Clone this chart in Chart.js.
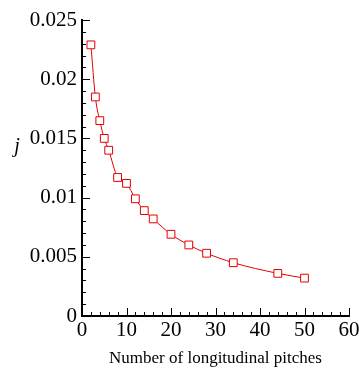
<!DOCTYPE html>
<html>
<head>
<meta charset="utf-8">
<script src="https://cdn.jsdelivr.net/npm/chart.js@4/dist/chart.umd.min.js"></script>
<style>
html,body{margin:0;padding:0;background:#fff;}
#wrap{width:359px;height:370px;position:relative;}
</style>
</head>
<body>
<div id="wrap"><canvas id="c" width="359" height="370"></canvas></div>
<script>
const pitches = [2, 3, 4, 5, 6, 8, 10, 12, 14, 16, 20, 24, 28, 34, 44, 50];
const jValues = [0.0229, 0.0185, 0.0165, 0.0150, 0.0140, 0.0117, 0.0112, 0.0099, 0.0089, 0.0082, 0.0069, 0.0060, 0.0053, 0.0045, 0.0036, 0.0032];
const xTickLabels = ['0', '10', '20', '30', '40', '50', '60'];
const yTickLabels = ['0', '0.005', '0.01', '0.015', '0.02', '0.025'];
const xTitle = 'Number of longitudinal pitches';
const yTitle = 'j';

const RED = 'rgb(228,0,0)';
const FONT = '"Liberation Serif", "Times New Roman", serif';

const points = pitches.map((x, i) => ({x: x, y: jValues[i]}));

function isMajor(v, step) {
  const r = v / step;
  return Math.abs(r - Math.round(r)) < 1e-6;
}

const tickPlugin = {
  id: 'innerTicks',
  afterDraw(chart) {
    const ctx = chart.ctx;
    const xs = chart.scales.x, ys = chart.scales.y;
    const area = chart.chartArea;
    ctx.save();
    ctx.strokeStyle = '#000';
    ctx.lineWidth = 1;
    xs.ticks.forEach(t => {
      const px = Math.round(xs.getPixelForValue(t.value)) + 0.5;
      const len = isMajor(t.value, 10) ? 8 : 4;
      ctx.beginPath();
      ctx.moveTo(px, area.bottom);
      ctx.lineTo(px, area.bottom - len);
      ctx.stroke();
    });
    ys.ticks.forEach(t => {
      const py = Math.round(ys.getPixelForValue(t.value)) + 0.5;
      const len = isMajor(t.value, 0.005) ? 8 : 4;
      ctx.beginPath();
      ctx.moveTo(area.left, py);
      ctx.lineTo(area.left + len, py);
      ctx.stroke();
    });
    ctx.fillStyle = '#000';
    ctx.font = 'italic 20px ' + FONT;
    ctx.textAlign = 'center';
    ctx.textBaseline = 'alphabetic';
    ctx.fillText(yTitle, 17, 152);
    ctx.restore();
  }
};

function draw() {
  Chart.defaults.font.family = FONT;
  new Chart(document.getElementById('c'), {
    type: 'scatter',
    data: {
      datasets: [{
        data: points,
        showLine: true,
        borderColor: RED,
        borderWidth: 1,
        cubicInterpolationMode: 'monotone',
        pointStyle: 'rect',
        pointRadius: 5.5,
        pointBorderWidth: 1,
        pointBorderColor: RED,
        pointBackgroundColor: '#fff',
        clip: false
      }]
    },
    options: {
      responsive: false,
      animation: false,
      devicePixelRatio: 1,
      layout: {padding: {top: 20, right: 10, bottom: 0, left: 0}},
      plugins: {legend: {display: false}, tooltip: {enabled: false}},
      scales: {
        x: {
          type: 'linear',
          min: 0, max: 60,
          grid: {display: false, drawTicks: false},
          border: {display: true, color: '#000', width: 2},
          ticks: {
            stepSize: 2,
            autoSkip: false,
            maxRotation: 0,
            padding: 2,
            color: '#000',
            font: {family: FONT, size: 21},
            callback: (v) => {
              if (!isMajor(v, 10)) return '';
              const s = String(Math.round(v));
              return xTickLabels.includes(s) ? s : '';
            }
          },
          title: {
            display: true,
            text: xTitle,
            color: '#000',
            font: {family: FONT, size: 17},
            padding: {top: 0, bottom: 1}
          },
          afterFit: (s) => { s.height = 54; s.paddingLeft = 0; s.paddingRight = 0; }
        },
        y: {
          type: 'linear',
          min: 0, max: 0.025,
          grid: {display: false, drawTicks: false},
          border: {display: true, color: '#000', width: 2},
          ticks: {
            stepSize: 0.001,
            autoSkip: false,
            padding: 5,
            color: '#000',
            font: {family: FONT, size: 21},
            callback: (v) => {
              if (!isMajor(v, 0.005)) return '';
              const s = String(parseFloat(v.toFixed(3)));
              return yTickLabels.includes(s) ? s : '';
            }
          },
          afterFit: (s) => { s.width = 82; s.paddingTop = 0; s.paddingBottom = 0; }
        }
      }
    },
    plugins: [tickPlugin]
  });
}

if (document.fonts && document.fonts.load) {
  Promise.all([
    document.fonts.load('21px "Liberation Serif"'),
    document.fonts.load('italic 20px "Liberation Serif"')
  ]).then(draw, draw);
} else {
  draw();
}
</script>
</body>
</html>
